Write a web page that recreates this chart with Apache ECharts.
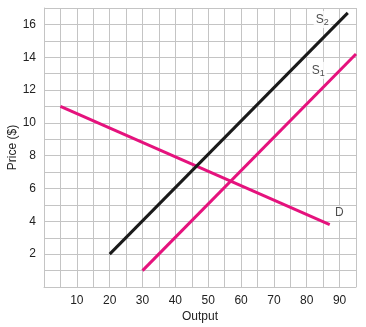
<!DOCTYPE html>
<html><head><meta charset="utf-8">
<script src="https://cdn.jsdelivr.net/npm/echarts@6/dist/echarts.min.js"></script>
<style>html,body{margin:0;padding:0;background:#fff}#c{width:366px;height:327px}</style>
</head><body><div id="c"></div>
<script>
const demand = [[5, 11], [87, 3.8]];
const supply1 = [[30, 1], [95, 14.2]];
const supply2 = [[20, 2], [92.5, 16.7]];
const curveLabels = [
  {name: 'S2', value: [84.7, 16.3], text: 'S{sub|2}'},
  {name: 'S1', value: [83.5, 13.2], text: 'S{sub|1}'},
  {name: 'D', value: [89.9, 4.5], text: 'D'}
];
const xMin = 0, xMax = 95, xStep = 5;
const yMin = 0, yMax = 17, yStep = 1;

const MAGENTA = '#e5127d';
const chart = echarts.init(document.getElementById('c'));
const font = 'Liberation Sans, Arial, sans-serif';
chart.setOption({
  animation: false,
  grid: {left: 44, right: 10, top: 8, bottom: 40, containLabel: false, outerBoundsMode: 'none'},
  xAxis: {
    type: 'value', min: xMin, max: xMax, interval: xStep,
    name: 'Output', nameLocation: 'middle', nameGap: 24, nameMoveOverlap: false,
    nameTextStyle: {fontFamily: font, fontSize: 12, color: '#222'},
    axisLine: {show: true, lineStyle: {color: '#c4c4c4', width: 1}},
    axisTick: {show: false},
    splitLine: {show: true, lineStyle: {color: '#c4c4c4', width: 1}},
    axisLabel: {fontFamily: font, fontSize: 12, color: '#222', margin: 8,
      formatter: v => (v > 0 && v % 10 === 0) ? String(v) : ''}
  },
  yAxis: {
    type: 'value', min: yMin, max: yMax, interval: yStep,
    name: 'Price ($)', nameLocation: 'middle', nameGap: 25, nameRotate: 90, nameMoveOverlap: false,
    nameTextStyle: {fontFamily: font, fontSize: 12, color: '#222'},
    axisLine: {show: true, lineStyle: {color: '#c4c4c4', width: 1}},
    axisTick: {show: false},
    splitLine: {show: true, lineStyle: {color: '#c4c4c4', width: 1}},
    axisLabel: {fontFamily: font, fontSize: 12, color: '#222', margin: 8,
      formatter: v => (v > 0 && v % 2 === 0) ? String(v) : ''}
  },
  series: [
    {type: 'line', data: demand, symbol: 'none', lineStyle: {color: MAGENTA, width: 3}, z: 3},
    {type: 'line', data: supply1, symbol: 'none', lineStyle: {color: MAGENTA, width: 3}, z: 3},
    {type: 'line', data: supply2, symbol: 'none', lineStyle: {color: '#1a1a1a', width: 3}, z: 3},
    {type: 'scatter', symbolSize: 0, z: 2,
      data: curveLabels.map(d => ({name: d.name, value: d.value, label: {formatter: d.text}})),
      label: {show: true, position: 'inside', fontFamily: font, fontSize: 12, color: '#222',
        backgroundColor: '#fff', padding: [1, 2],
        rich: {sub: {fontFamily: font, fontSize: 9, verticalAlign: 'bottom', padding: [6, 0, 0, 0], color: '#222'}}}
    }
  ]
});
</script></body></html>
